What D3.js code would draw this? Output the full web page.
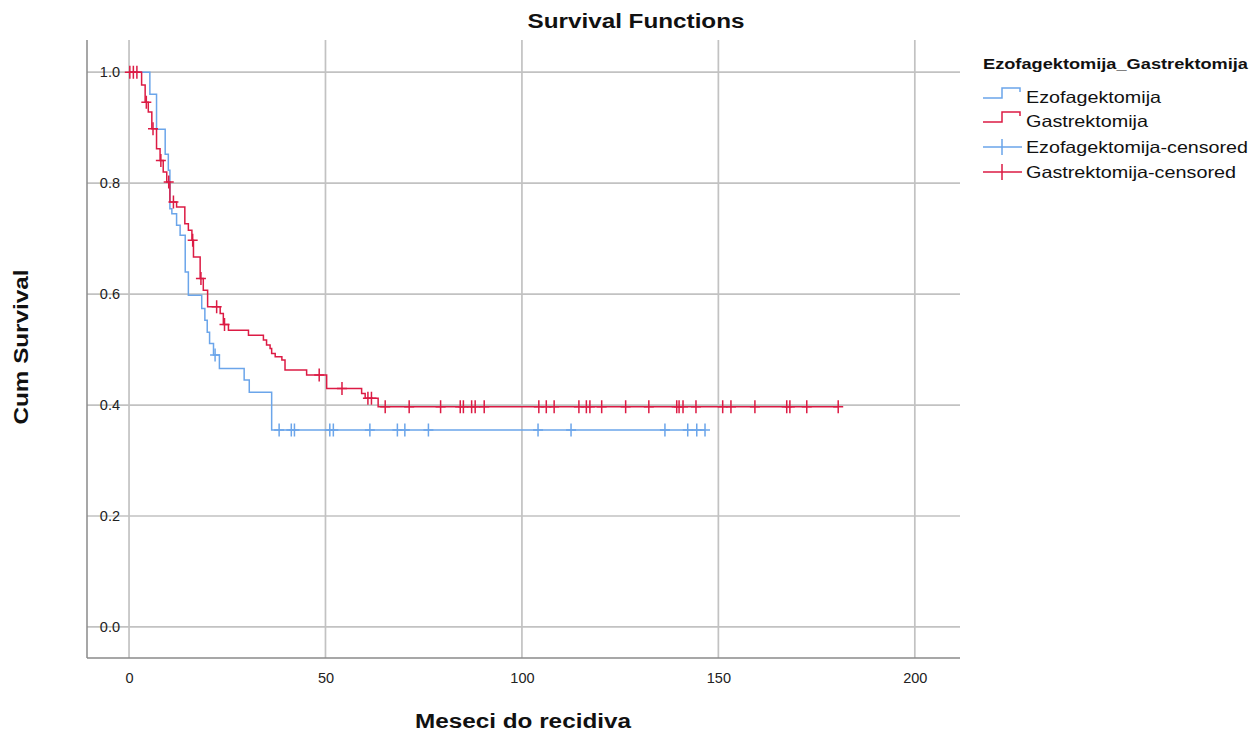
<!DOCTYPE html>
<html>
<head>
<meta charset="utf-8">
<script src="https://cdn.jsdelivr.net/npm/d3@7/dist/d3.min.js"></script>
<style>
  html, body { margin: 0; padding: 0; background: #fff; }
  svg { display: block; font-family: "Liberation Sans", Arial, sans-serif; }
</style>
</head>
<body>
<svg id="chart" width="1256" height="733"></svg>
<script>
// ---------------- data ----------------
const chartTitle = "Survival Functions";
const xTitle = "Meseci do recidiva";
const yTitle = "Cum Survival";
const legendTitle = "Ezofagektomija_Gastrektomija";
const groupNames = ["Ezofagektomija", "Gastrektomija"];
const xTicks = [0, 50, 100, 150, 200];
const yTicks = [0.0, 0.2, 0.4, 0.6, 0.8, 1.0];

// Ezofagektomija: event times (months) and survival after each step
const ezoTimes = [5.3, 7.0, 9.2, 10.0, 10.4, 10.9, 12.1, 13.0, 14.3, 15.1, 18.5, 19.3, 19.9, 20.5, 21.5, 23.0, 29.3, 30.6, 36.3];
const ezoSurv  = [0.960, 0.897, 0.852, 0.823, 0.754, 0.745, 0.724, 0.706, 0.640, 0.598, 0.574, 0.553, 0.531, 0.511, 0.490, 0.466, 0.445, 0.423, 0.355];
const ezoCensored = [21.9, 38.2, 41.3, 42.1, 51.1, 52.0, 61.3, 68.3, 70.2, 76.2, 104.1, 112.5, 136.4, 142.2, 144.5, 146.6];

// Gastrektomija
const gasTimes = [3.2, 4.1, 4.9, 5.8, 7.0, 7.9, 8.7, 9.6, 10.4, 12.1, 14.2, 15.1, 16.0, 16.4, 18.1, 18.9, 20.0, 23.2, 24.0, 25.3, 30.4, 34.2, 35.0, 35.9, 36.3, 37.2, 38.9, 39.7, 45.2, 50.3, 59.2, 60.1, 63.4];
const gasSurv  = [0.977, 0.946, 0.928, 0.898, 0.862, 0.841, 0.820, 0.802, 0.766, 0.757, 0.727, 0.715, 0.697, 0.667, 0.628, 0.607, 0.577, 0.565, 0.545, 0.535, 0.526, 0.517, 0.508, 0.502, 0.493, 0.487, 0.481, 0.463, 0.454, 0.430, 0.421, 0.412, 0.397];
const gasCensored = [0.2, 1.1, 2.0, 4.4, 6.1, 8.1, 10.1, 11.3, 16.2, 18.3, 22.3, 24.3, 48.4, 54.2, 60.8, 61.7, 65.2, 71.3, 79.3, 84.3, 85.1, 87.2, 88.1, 90.4, 104.3, 106.2, 108.2, 114.5, 116.4, 117.3, 120.3, 126.4, 132.3, 139.4, 140.0, 141.0, 144.3, 151.1, 153.2, 159.3, 167.4, 168.2, 172.5, 180.5];

const colors = ["#6ba5ea", "#dc1b44"];

// ---------------- layout ----------------
const svg = d3.select("#chart");
const plot = { left: 87, right: 960, top: 40, bottom: 658 };
const x = d3.scaleLinear().domain([-10.7, 211.5]).range([plot.left, plot.right]);
const y = d3.scaleLinear().domain([-0.056, 1.058]).range([plot.bottom, plot.top]);

// grid
const grid = svg.append("g");
grid.selectAll("line.h").data(yTicks).enter().append("line")
  .attr("x1", plot.left).attr("x2", plot.right)
  .attr("y1", d => y(d)).attr("y2", d => y(d))
  .attr("stroke", "#c2c2c2").attr("stroke-width", 1.7);
grid.selectAll("line.v").data(xTicks).enter().append("line")
  .attr("x1", d => x(d)).attr("x2", d => x(d))
  .attr("y1", plot.top).attr("y2", plot.bottom)
  .attr("stroke", "#c2c2c2").attr("stroke-width", 1.7);

// axes
const xAxis = d3.axisBottom(x).tickValues(xTicks).tickSize(0).tickPadding(15).tickFormat(d3.format("d"));
const yAxis = d3.axisLeft(y).tickValues(yTicks).tickSize(0).tickPadding(0).tickFormat(d3.format(".1f"));
const gx = svg.append("g").attr("transform", `translate(0,${plot.bottom})`).call(xAxis);
const gy = svg.append("g").attr("transform", `translate(120,0)`).call(yAxis);
[gx, gy].forEach(g => {
  g.select(".domain").remove();
  g.selectAll("text").attr("font-size", 14.5).attr("fill", "#222").attr("font-family", "'Liberation Sans', Arial, sans-serif");
});
svg.append("line").attr("x1", plot.left).attr("x2", plot.left).attr("y1", plot.top).attr("y2", plot.bottom)
  .attr("stroke", "#8a8a8a").attr("stroke-width", 1.5);
svg.append("line").attr("x1", plot.left).attr("x2", plot.right).attr("y1", plot.bottom).attr("y2", plot.bottom)
  .attr("stroke", "#8a8a8a").attr("stroke-width", 1.5);

// ---------------- curves ----------------
function buildGroup(times, surv, cens) {
  const end = d3.max([d3.max(times), d3.max(cens)]);
  const pts = [[0, 1]].concat(times.map((t, i) => [t, surv[i]]));
  pts.push([end, surv[surv.length - 1]]);
  const survAt = t => { let s = 1; times.forEach((tt, i) => { if (tt <= t) s = surv[i]; }); return s; };
  return { pts, cens: cens.map(t => [t, survAt(t)]) };
}
const groups = [buildGroup(ezoTimes, ezoSurv, ezoCensored), buildGroup(gasTimes, gasSurv, gasCensored)];
const line = d3.line().x(d => x(d[0])).y(d => y(d[1])).curve(d3.curveStepAfter);

groups.forEach((g, i) => {
  svg.append("path").datum(g.pts).attr("d", line)
    .attr("fill", "none").attr("stroke", colors[i]).attr("stroke-width", 1.5);
});
groups.forEach((g, i) => {
  const mk = svg.append("g");
  mk.selectAll("path").data(g.cens).enter().append("path")
    .attr("d", d => {
      const cx = x(d[0]), cy = y(d[1]);
      return `M${cx - 5},${cy}H${cx + 5}M${cx},${cy - 6.5}V${cy + 6.5}`;
    })
    .attr("stroke", colors[i]).attr("stroke-width", 1.5).attr("fill", "none");
});

// ---------------- titles ----------------
svg.append("text").attr("x", 636).attr("y", 28).attr("text-anchor", "middle")
  .attr("font-size", 20).attr("font-weight", "bold").attr("fill", "#111")
  .attr("textLength", 217).attr("lengthAdjust", "spacingAndGlyphs").text(chartTitle);
svg.append("text").attr("x", 523).attr("y", 728).attr("text-anchor", "middle")
  .attr("font-size", 20).attr("font-weight", "bold").attr("fill", "#111")
  .attr("textLength", 216).attr("lengthAdjust", "spacingAndGlyphs").text(xTitle);
svg.append("text").attr("transform", "translate(28,347) rotate(-90)").attr("text-anchor", "middle")
  .attr("font-size", 20).attr("font-weight", "bold").attr("fill", "#111")
  .attr("textLength", 155).attr("lengthAdjust", "spacingAndGlyphs").text(yTitle);

// ---------------- legend ----------------
const lg = svg.append("g");
lg.append("text").attr("x", 983).attr("y", 69).attr("font-size", 14).attr("font-weight", "bold")
  .attr("fill", "#111").attr("textLength", 265).attr("lengthAdjust", "spacingAndGlyphs").text(legendTitle);
const legendItems = [
  { label: groupNames[0], color: colors[0], type: "step", len: 135 },
  { label: groupNames[1], color: colors[1], type: "step", len: 122 },
  { label: groupNames[0] + "-censored", color: colors[0], type: "cens", len: 222 },
  { label: groupNames[1] + "-censored", color: colors[1], type: "cens", len: 210 }
];
const rowY = [97, 121, 147, 172];
legendItems.forEach((it, i) => {
  const cy = rowY[i];
  if (it.type === "step") {
    lg.append("path").attr("d", `M983,${cy + 1}H1002V${cy - 9}H1020V${cy - 5}`)
      .attr("fill", "none").attr("stroke", it.color).attr("stroke-width", 1.5);
  } else {
    lg.append("path").attr("d", `M983,${cy}H1022M1002,${cy - 8}V${cy + 8}`)
      .attr("fill", "none").attr("stroke", it.color).attr("stroke-width", 1.5);
  }
  lg.append("text").attr("x", 1026).attr("y", cy + 6).attr("font-size", 16.5).attr("fill", "#111")
    .attr("textLength", it.len).attr("lengthAdjust", "spacingAndGlyphs").text(it.label);
});
</script>
</body>
</html>
